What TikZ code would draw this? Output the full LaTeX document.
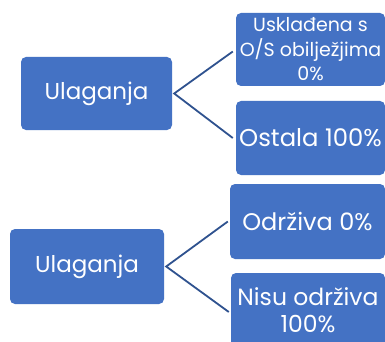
\documentclass[tikz,border=0pt]{standalone}
\usepackage{fontspec}
\setmainfont{Poppins}
\definecolor{boxblue}{HTML}{4472C4}
\definecolor{lineblue}{HTML}{2F528F}
\begin{document}
\begin{tikzpicture}[x=1pt,y=-1pt,
  box/.style={draw=none, fill=boxblue, rounded corners=5pt, text=white, align=center, inner sep=0pt},
  conn/.style={draw=lineblue, line width=1.8pt}]
\useasboundingbox (0,0) rectangle (385,342);
\clip (0,0) rectangle (385,342);
\fill[white] (0,0) rectangle (385,342);
% top group
\node[box, minimum width=151pt, minimum height=73pt, font=\fontsize{23}{28}\selectfont] (u1) at (96.5,93.5) {Ulaganja};
\node[box, minimum width=149pt, minimum height=73pt, font=\fontsize{19}{24.5}\selectfont] (a1) at (310.5,49.5) {Usklađena s\\O/S obilježjima\\0\%};
\node[box, minimum width=149pt, minimum height=74pt, font=\fontsize{24.3}{28}\selectfont] (b1) at (310.5,138) {Ostala 100\%};
\coordinate (v1) at ([xshift=2pt]u1.east);
\coordinate (e1a) at ([xshift=-3pt,yshift=-2pt]a1.west);
\coordinate (e1b) at ([xshift=-3pt]b1.west);
\draw[conn] (e1a) -- (v1) -- (e1b);
% bottom group
\node[box, minimum width=154pt, minimum height=75pt, font=\fontsize{23}{28}\selectfont] (u2) at (87,266.5) {Ulaganja};
\node[box, minimum width=155pt, minimum height=75pt, font=\fontsize{24}{27}\selectfont] (a2) at (307.5,221.5) {Održiva 0\%};
\node[box, minimum width=154pt, minimum height=75pt, font=\fontsize{23.5}{27}\selectfont] (b2) at (308,310.5) {Nisu održiva\\100\%};
\coordinate (v2) at ([xshift=2pt]u2.east);
\coordinate (e2a) at ([xshift=-2pt]a2.west);
\coordinate (e2b) at ([xshift=-2pt,yshift=-1.5pt]b2.west);
\draw[conn] (e2a) -- (v2) -- (e2b);
\end{tikzpicture}
\end{document}
